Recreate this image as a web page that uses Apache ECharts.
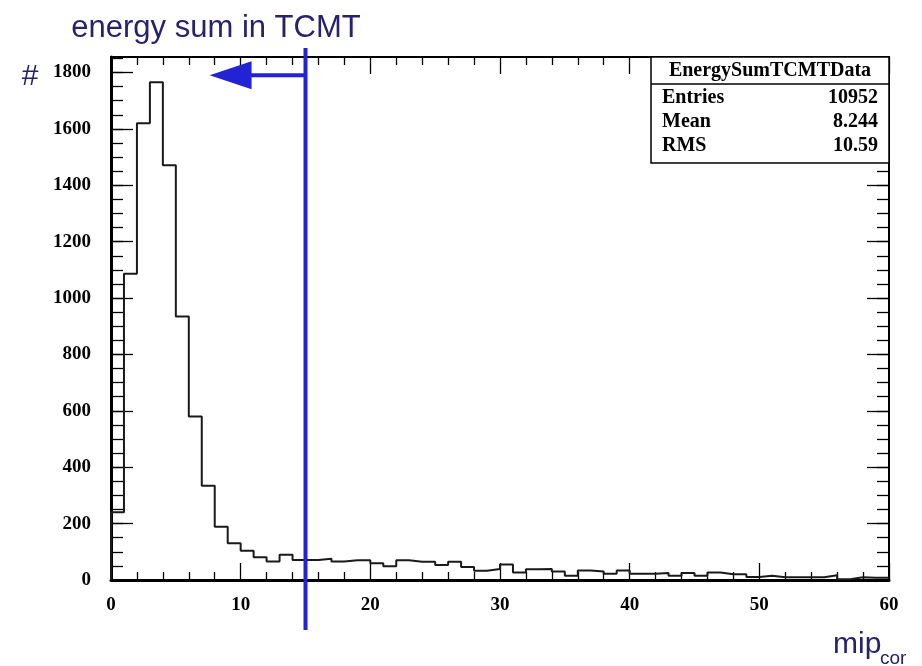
<!DOCTYPE html>
<html>
<head>
<meta charset="utf-8">
<title>energy sum in TCMT</title>
<script src="https://cdn.jsdelivr.net/npm/echarts@6/dist/echarts.min.js"></script>
<style>
  html, body { margin: 0; padding: 0; background: #fff; }
  #chart { width: 922px; height: 666px; }
</style>
</head>
<body>
<div id="chart"></div>
<script>
// Histogram of the summed TCMT energy (in MIP units), 1-unit bins from 0 to 60
const histName = 'EnergySumTCMTData';
const binLow = 0;
const binWidth = 1;
const binCounts = [
  240, 1086, 1620, 1765, 1471, 935, 580, 334, 189, 130,
  104, 81, 66, 90, 71, 71, 75, 66, 70, 70,
  59, 49, 70, 65, 65, 53, 65, 46, 33, 39,
  55, 27, 38, 39, 30, 15, 34, 30, 22, 34,
  22, 22, 25, 15, 25, 15, 27, 20, 20, 11,
  15, 10, 10, 10, 10, 17, 3, 10, 8, 8
];
const statNames = ['Entries', 'Mean', 'RMS'];
const statValues = ['10952', '8.244', '10.59'];
const xTicks = { min: 0, max: 60, step: 10, minorStep: 2 };
const yTicks = { min: 0, max: 1855, step: 200, minorStep: 50 };
const cutValue = 15;        // selection cut on the energy sum
const arrowTipValue = 7.6;  // arrow points towards the accepted side
const arrowLevel = 1790;

const titleText = 'energy sum in TCMT';
const yTitle = '#';
const xTitleMain = 'mip';
const xTitleSub = 'cor';

// outline of the histogram as a stepped polyline
const stepData = [[binLow, 0]];
binCounts.forEach((c, i) => stepData.push([binLow + i * binWidth, c]));
stepData.push([binLow + binCounts.length * binWidth, binCounts[binCounts.length - 1]]);

const navy = '#27216f';
const blue = '#2323d6';
const labelFont = { fontFamily: 'Liberation Serif', fontWeight: 'bold', fontSize: 19, color: '#000' };
const plainNumber = v => String(v);

const chart = echarts.init(document.getElementById('chart'), null, { renderer: 'canvas' });

const grid = { left: 111, right: 33, top: 57, bottom: 86 };

function xAxisDef(pos, lineW, showLabels) {
  return {
    type: 'value', position: pos, min: xTicks.min, max: xTicks.max, interval: xTicks.step,
    axisLine: { show: true, onZero: false, lineStyle: { color: '#000', width: lineW } },
    axisTick: { show: true, inside: true, length: 17, lineStyle: { color: '#000', width: 1.3 } },
    minorTick: { show: true, splitNumber: xTicks.step / xTicks.minorStep, length: 8, lineStyle: { color: '#000', width: 1.3 } },
    axisLabel: showLabels ? Object.assign({ margin: 16, formatter: plainNumber }, labelFont) : { show: false },
    splitLine: { show: false }
  };
}
function yAxisDef(pos, lineW, showLabels, interval, tickLen, showLine) {
  return {
    type: 'value', position: pos, min: yTicks.min, max: yTicks.max, interval: interval,
    axisLine: { show: showLine, onZero: false, lineStyle: { color: '#000', width: lineW } },
    axisTick: { show: true, inside: true, length: tickLen, lineStyle: { color: '#000', width: 1.3 } },
    axisLabel: showLabels ? Object.assign({ margin: 20, showMaxLabel: false, formatter: plainNumber }, labelFont) : { show: false },
    splitLine: { show: false }
  };
}

chart.setOption({
  animation: false,
  backgroundColor: '#fff',
  grid: grid,
  xAxis: [
    xAxisDef('bottom', 3, true),
    xAxisDef('top', 2, false)
  ],
  yAxis: [
    yAxisDef('left', 3, true, yTicks.step, 22, true),
    yAxisDef('left', 3, false, yTicks.minorStep, 12, false),
    yAxisDef('right', 2, false, yTicks.step, 22, true),
    yAxisDef('right', 2, false, yTicks.minorStep, 12, false)
  ],
  series: [{
    name: histName,
    type: 'line',
    step: 'end',
    data: stepData,
    xAxisIndex: 0,
    yAxisIndex: 0,
    showSymbol: false,
    symbol: 'none',
    lineStyle: { color: '#1a1a1a', width: 2 },
    z: 3
  }]
});

// overlay: cut line, arrow, statistics box and axis titles
const cutX = chart.convertToPixel({ xAxisIndex: 0 }, cutValue);
const tipX = chart.convertToPixel({ xAxisIndex: 0 }, arrowTipValue);
const arrowY = chart.convertToPixel({ yAxisIndex: 0 }, arrowLevel);
const plotTop = grid.top;
const plotBottom = 666 - grid.bottom;
const plotRight = 922 - grid.right;

const boxL = 651, boxT = plotTop, boxB = 163, sepY = 84;
const statRows = [98, 122, 146];

const graphics = [
  // statistics box
  { type: 'rect', shape: { x: boxL, y: boxT, width: plotRight - boxL, height: boxB - boxT },
    style: { fill: '#fff', stroke: '#000', lineWidth: 1.5 }, z: 10 },
  { type: 'line', shape: { x1: boxL, y1: sepY, x2: plotRight, y2: sepY },
    style: { stroke: '#000', lineWidth: 1.5 }, z: 11 },
  { type: 'text', x: (boxL + plotRight) / 2, y: 71, z: 11,
    style: { text: histName, align: 'center', verticalAlign: 'middle',
      font: 'bold 20px "Liberation Serif"', fill: '#000' } },
  // cut marker
  { type: 'line', shape: { x1: cutX, y1: plotTop - 9, x2: cutX, y2: plotBottom + 50 },
    style: { stroke: blue, lineWidth: 4 }, z: 20 },
  { type: 'line', shape: { x1: tipX + 38, y1: arrowY, x2: cutX, y2: arrowY },
    style: { stroke: blue, lineWidth: 4 }, z: 20 },
  { type: 'polygon', shape: { points: [[tipX, arrowY], [tipX + 42, arrowY - 14], [tipX + 42, arrowY + 14]] },
    style: { fill: blue }, z: 20 },
  // titles
  { type: 'text', x: 216, y: 28, z: 20,
    style: { text: titleText, align: 'center', verticalAlign: 'middle',
      font: '31px "Liberation Sans"', fill: navy } },
  { type: 'text', x: 30, y: 77, z: 20,
    style: { text: yTitle, align: 'center', verticalAlign: 'middle',
      font: '30px "Liberation Sans"', fill: navy } },
  { type: 'text', x: 833, y: 645, z: 20,
    style: { text: xTitleMain, align: 'left', verticalAlign: 'middle',
      font: '30px "Liberation Sans"', fill: navy } },
  { type: 'text', x: 880, y: 659, z: 20,
    style: { text: xTitleSub, align: 'left', verticalAlign: 'middle',
      font: '19px "Liberation Sans"', fill: navy } }
];
statNames.forEach((n, i) => {
  graphics.push({ type: 'text', x: 662, y: statRows[i], z: 11,
    style: { text: n, align: 'left', verticalAlign: 'middle',
      font: 'bold 20px "Liberation Serif"', fill: '#000' } });
  graphics.push({ type: 'text', x: 878, y: statRows[i], z: 11,
    style: { text: statValues[i], align: 'right', verticalAlign: 'middle',
      font: 'bold 20px "Liberation Serif"', fill: '#000' } });
});
chart.setOption({ graphic: graphics });
</script>
</body>
</html>
